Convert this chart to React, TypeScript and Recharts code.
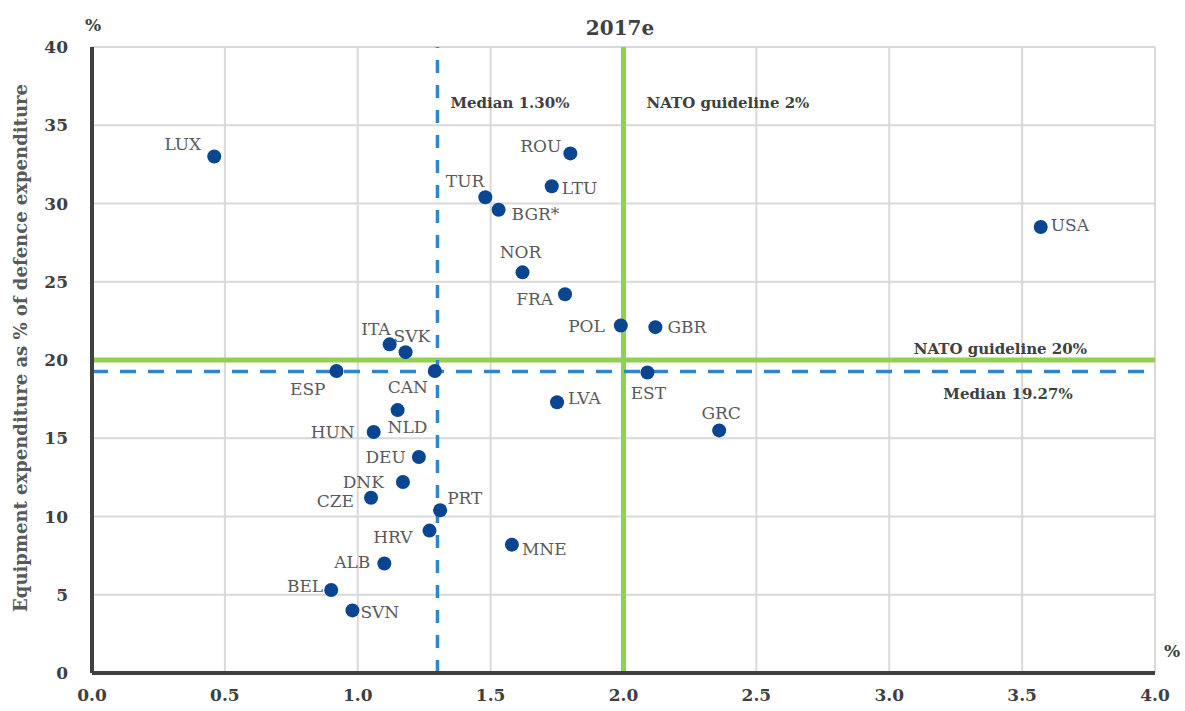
import React from "react"
import {
  ScatterChart,
  Scatter,
  XAxis,
  YAxis,
  CartesianGrid,
  ReferenceLine,
  Customized
} from "recharts"

// defence spending (% of GDP) vs equipment share (% of defence spending), 2017e
const countries = [
  "LUX", "ROU", "TUR", "LTU", "BGR*", "USA", "NOR", "FRA", "POL", "GBR",
  "ITA", "SVK", "ESP", "CAN", "EST", "LVA", "GRC", "NLD", "HUN", "DEU",
  "DNK", "CZE", "PRT", "HRV", "MNE", "ALB", "BEL", "SVN"
]
const gdpShare = [
  0.46, 1.80, 1.48, 1.73, 1.53, 3.57, 1.62, 1.78, 1.99, 2.12,
  1.12, 1.18, 0.92, 1.29, 2.09, 1.75, 2.36, 1.15, 1.06, 1.23,
  1.17, 1.05, 1.31, 1.27, 1.58, 1.10, 0.90, 0.98
]
const equipShare = [
  33.0, 33.2, 30.4, 31.1, 29.6, 28.5, 25.6, 24.2, 22.2, 22.1,
  21.0, 20.5, 19.3, 19.3, 19.2, 17.3, 15.5, 16.8, 15.4, 13.8,
  12.2, 11.2, 10.4, 9.1, 8.2, 7.0, 5.3, 4.0
]
const xTicks = [0, 0.5, 1, 1.5, 2, 2.5, 3, 3.5, 4]
const yTicks = [0, 5, 10, 15, 20, 25, 30, 35, 40]

const medianSpend = 1.3
const medianEquip = 19.27
const natoSpend = 2
const natoEquip = 20

// label placement relative to the dot: [dx, dy, anchor]
const labelPos: Record<string, [number, number, "start" | "middle" | "end"]> = {
  LUX: [-13, -7, "end"],
  ROU: [-9, -1, "end"],
  TUR: [-1, -10, "end"],
  LTU: [10, 8, "start"],
  "BGR*": [13, 10, "start"],
  USA: [10, 4, "start"],
  NOR: [-2, -14, "middle"],
  FRA: [-12, 11, "end"],
  POL: [-16, 6, "end"],
  GBR: [12, 6, "start"],
  ITA: [1, -9, "end"],
  SVK: [-12, -10, "start"],
  ESP: [-11, 24, "end"],
  CAN: [-7, 22, "end"],
  EST: [1, 26, "middle"],
  LVA: [11, 2, "start"],
  GRC: [2, -11, "middle"],
  NLD: [-10, 23, "start"],
  HUN: [-19, 6, "end"],
  DEU: [-13, 6, "end"],
  DNK: [-19, 6, "end"],
  CZE: [-17, 9, "end"],
  PRT: [7, -6, "start"],
  HRV: [-17, 12, "end"],
  MNE: [10, 10, "start"],
  ALB: [-14, 5, "end"],
  BEL: [-8, 2, "end"],
  SVN: [8, 8, "start"]
}

const data = countries.map((name, i) => ({ name, x: gdpShare[i], y: equipShare[i] }))

const serif = "DejaVu Serif"
const axisColor = "#404040"
const green = "#92d050"
const blue = "#2f86c9"

function CountryDot(props: any) {
  const { cx, cy, payload } = props
  const [dx, dy, anchor] = labelPos[payload.name] ?? [10, 5, "start"]
  return (
    <g>
      <circle cx={cx} cy={cy} r={7} fill="#0a4592" />
      <text x={cx + dx} y={cy + dy} textAnchor={anchor} fontSize={17} fontFamily={serif} fill="#5a5a5a">
        {payload.name}
      </text>
    </g>
  )
}

function lineNote(text: string, dx: number, dy: number, anchor: "start" | "middle" | "end", fromRight = false) {
  return (props: any) => {
    const vb = props.viewBox
    const x = fromRight ? vb.x + vb.width + dx : vb.x + dx
    return (
      <text x={x} y={vb.y + dy} textAnchor={anchor} fontSize={15} fontWeight="bold" fontFamily={serif} fill={axisColor}>
        {text}
      </text>
    )
  }
}

function Extras() {
  return (
    <g fontFamily={serif} fontWeight="bold" fill={axisColor}>
      <text x={620} y={35} textAnchor="middle" fontSize={20}>2017e</text>
      <text x={93} y={31} textAnchor="middle" fontSize={17}>%</text>
      <text x={1172} y={657} textAnchor="middle" fontSize={17}>%</text>
      <text
        transform="translate(27,348) rotate(-90)"
        textAnchor="middle"
        fontSize={18}
        fill="#595959"
      >
        Equipment expenditure as % of defence expenditure
      </text>
    </g>
  )
}

export default function App() {
  const tickStyle = { fill: axisColor, fontSize: 17, fontWeight: "bold" as const, fontFamily: serif }
  return (
    <div style={{ position: "absolute", left: 0, top: 0, width: 1185, height: 711, background: "#fff" }}>
      <ScatterChart width={1185} height={711} margin={{ top: 47, right: 30, bottom: 0, left: 0 }}>
        <CartesianGrid stroke="#d9d9d9" strokeWidth={2} horizontalValues={yTicks} verticalValues={xTicks} />
        <XAxis
          type="number"
          dataKey="x"
          domain={[0, 4]}
          ticks={xTicks}
          tickFormatter={(v: number) => v.toFixed(1)}
          tick={tickStyle}
          tickLine={false}
          axisLine={{ stroke: axisColor, strokeWidth: 4 }}
          height={38}
          tickMargin={10}
        />
        <YAxis
          type="number"
          dataKey="y"
          domain={[0, 40]}
          ticks={yTicks}
          tick={tickStyle}
          tickLine={false}
          axisLine={{ stroke: axisColor, strokeWidth: 4 }}
          width={92}
          tickMargin={18}
        />
        <ReferenceLine x={natoSpend} stroke={green} strokeWidth={5} label={lineNote("NATO guideline 2%", 23, 61, "start")} />
        <ReferenceLine y={natoEquip} stroke={green} strokeWidth={5} label={lineNote("NATO guideline 20%", -68, -6, "end", true)} />
        <ReferenceLine x={medianSpend} stroke={blue} strokeWidth={3.5} strokeDasharray="13 12" label={lineNote("Median 1.30%", 13, 61, "start")} />
        <ReferenceLine y={medianEquip} stroke={blue} strokeWidth={3.5} strokeDasharray="16 12" label={lineNote("Median 19.27%", -147, 28, "middle", true)} />
        <Scatter data={data} shape={<CountryDot />} isAnimationActive={false} />
        <Customized component={Extras} />
      </ScatterChart>
    </div>
  )
}
